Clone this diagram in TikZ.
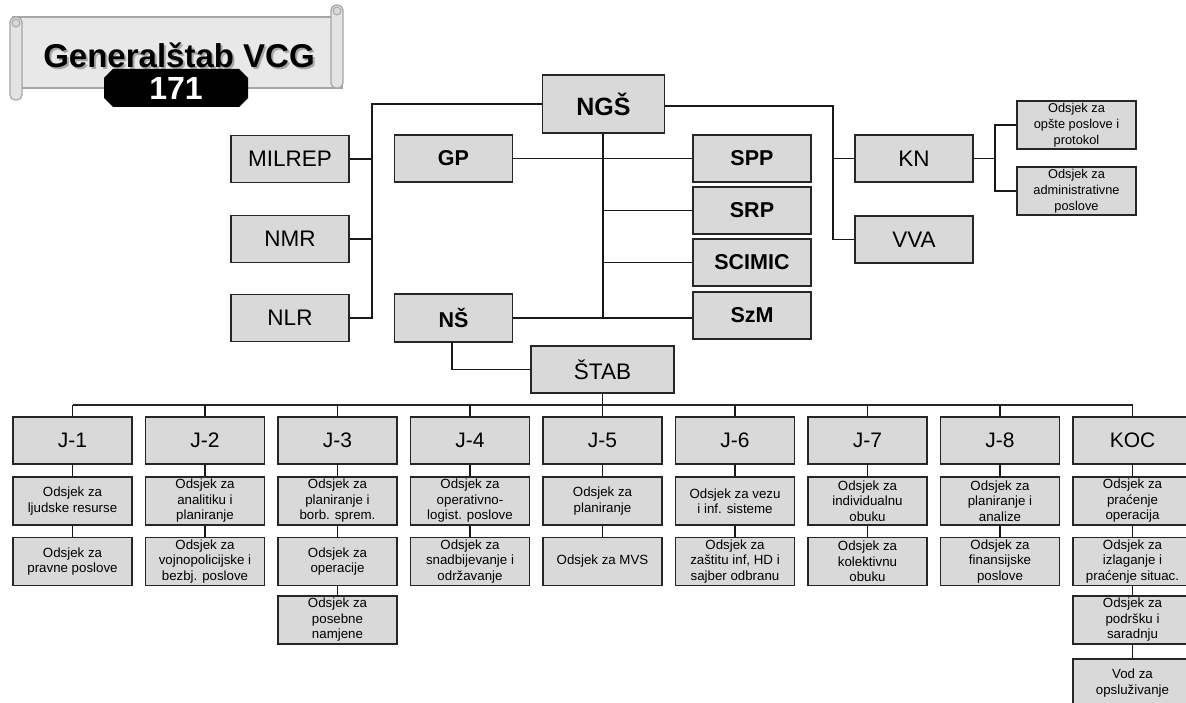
\documentclass[tikz,border=0pt]{standalone}
\usepackage{fontspec}
\setmainfont{Liberation Sans}
\begin{document}
\begin{tikzpicture}[x=1pt,y=-1pt,
  box/.style={draw=black!85,line width=1.6pt,fill=gray!30,inner sep=0pt,align=center},
  top/.style={box,minimum width=118pt,minimum height=47pt,font=\fontsize{22.5}{24}\selectfont},
  topb/.style={top,font=\fontsize{21.5}{24}\selectfont\bfseries},
  jb/.style={box,minimum width=119pt,minimum height=47pt,font=\fontsize{21}{23}\selectfont},
  sb/.style={box,minimum width=119pt,minimum height=48pt,font=\fontsize{13.3}{15.5}\selectfont},
  kb/.style={box,minimum width=119pt,minimum height=48pt,font=\fontsize{12.8}{16}\selectfont},
  con/.style={line width=1.3pt,black!90},
  bus/.style={line width=2.6pt,black!85}]
\clip (0,0) rectangle (1186,703);
\fill[white] (0,0) rectangle (1186,703);

% ---- banner ----
\draw[draw=gray!70,fill=gray!18,line width=1.2pt] (13,17) rectangle (342,88);
\draw[draw=gray!70,fill=gray!22,line width=1.2pt,rounded corners=5pt] (10,17) rectangle (22,100);
\draw[draw=gray!70,fill=gray!22,line width=1.2pt,rounded corners=5pt] (331,5) rectangle (343,88);
\draw[draw=gray!70,fill=gray!30,line width=1pt] (16,23) circle (4);
\draw[draw=gray!70,fill=gray!30,line width=1pt] (337,11) circle (4);
\node[font=\fontsize{33}{35}\selectfont\bfseries,text=gray!70] at (181,57) {Generalštab VCG};
\node (title) [font=\fontsize{33}{35}\selectfont\bfseries] at (179,55) {Generalštab VCG};
\fill[black] (113,69) -- (239,69) -- (248,78) -- (248,98) -- (239,107) -- (113,107) -- (104,98) -- (104,78) -- cycle;
\node (num) [font=\fontsize{32}{34}\selectfont\bfseries,text=white] at (176,88) {171};

% ---- upper part ----
\node (ngs) [topb,minimum width=122pt,minimum height=58pt,font=\fontsize{25}{27}\selectfont\bfseries] at (603.5,104) {NGŠ};
\node (milrep) [top] at (290,159) {MILREP};
\node (nmr) [top] at (290,239) {NMR};
\node (nlr) [top] at (290,318) {NLR};
\node (gp) [topb] at (453.5,158.5) {GP};
\node (ns) [topb,minimum height=48pt] at (453.5,318) {NŠ};
\node (spp) [topb] at (752,158.5) {SPP};
\node (srp) [topb] at (752,210.5) {SRP};
\node (scimic) [topb] at (752,262.5) {SCIMIC};
\node (szm) [topb] at (752,315.5) {SzM};
\node (kn) [top] at (914,158.5) {KN};
\node (vva) [top] at (914,239.5) {VVA};
\node (kn1) [kb] at (1076.5,125) {Odsjek za\\opšte poslove i\\protokol};
\node (kn2) [kb] at (1076.5,191) {Odsjek za\\administrativne\\poslove};
\node (stab) [top,minimum width=143pt] at (602.5,369.5) {ŠTAB};

\coordinate (tl) at (372,0);
\coordinate (tc) at (603,0);
\coordinate (tr) at (833,0);
\coordinate (tk) at (995,0);

\draw[con] (ngs.west) -| (tl |- nlr.east) -- (nlr.east);
\draw[con] (milrep.east) -- (milrep.east -| tl);
\draw[con] (nmr.east) -- (nmr.east -| tl);
\draw[con] (ngs.south -| tc) -- (tc |- ns.east);
\draw[con] (gp.east) -- (spp.west);
\draw[con] (tc |- srp.west) -- (srp.west);
\draw[con] (tc |- scimic.west) -- (scimic.west);
\draw[con] (ns.east) -- (ns.east -| szm.west);
\draw[con] ([yshift=-2pt]ngs.east) -| (tr |- vva.west) -- (vva.west);
\draw[con] (tr |- kn.west) -- (kn.west);
\draw[con] (kn.east) -- (kn.east -| tk);
\draw[con] (kn1.west) -| (tk |- kn2.west) -- (kn2.west);
\draw[con] (452,342) |- (stab.west);

% ---- staff columns ----
\node (j1) [jb] at (72.5,440.5) {J-1};
\node (j2) [jb] at (205,440.5) {J-2};
\node (j3) [jb] at (337.5,440.5) {J-3};
\node (j4) [jb] at (470,440.5) {J-4};
\node (j5) [jb] at (602.5,440.5) {J-5};
\node (j6) [jb] at (735,440.5) {J-6};
\node (j7) [jb] at (867.5,440.5) {J-7};
\node (j8) [jb] at (1000,440.5) {J-8};
\node (koc) [jb] at (1132.5,440.5) {KOC};

\coordinate (busl) at (72.5,405);
\coordinate (busr) at (1132.5,405);
\draw[bus] (busl) -- (busr);
\draw[con] (stab.south) -- (stab.south |- busl);
\foreach \n in {j1,j2,j3,j4,j5,j6,j7,j8,koc}
  \draw[con] (\n.north |- busl) -- (\n.north);

\node (a1) [sb] at (72.5,501) {Odsjek za\\ljudske resurse};
\node (a2) [sb] at (72.5,561.5) {Odsjek za\\pravne poslove};
\node (b1) [sb] at (205,501) {Odsjek za\\analitiku i\\planiranje};
\node (b2) [sb] at (205,561.5) {Odsjek za\\vojnopolicijske i\\bezbj. poslove};
\node (c1) [sb] at (337.5,501) {Odsjek za\\planiranje i\\borb. sprem.};
\node (c2) [sb] at (337.5,561.5) {Odsjek za\\operacije};
\node (c3) [sb] at (337.5,620) {Odsjek za\\posebne\\namjene};
\node (d1) [sb] at (470,501) {Odsjek za\\operativno-\\logist. poslove};
\node (d2) [sb] at (470,561.5) {Odsjek za\\snadbijevanje i\\održavanje};
\node (e1) [sb] at (602.5,501) {Odsjek za\\planiranje};
\node (e2) [sb] at (602.5,561.5) {Odsjek za MVS};
\node (f1) [sb] at (735,501) {Odsjek za vezu\\i inf. sisteme};
\node (f2) [sb] at (735,561.5) {Odsjek za\\zaštitu inf, HD i\\sajber odbranu};
\node (g1) [sb] at (867.5,501) {Odsjek za\\individualnu\\obuku};
\node (g2) [sb] at (867.5,561.5) {Odsjek za\\kolektivnu\\obuku};
\node (h1) [sb] at (1000,501) {Odsjek za\\planiranje i\\analize};
\node (h2) [sb] at (1000,561.5) {Odsjek za\\finansijske\\poslove};
\node (k1) [sb] at (1132.5,501) {Odsjek za\\praćenje\\operacija};
\node (k2) [sb] at (1132.5,561.5) {Odsjek za\\izlaganje i\\praćenje situac.};
\node (k3) [sb] at (1132.5,620) {Odsjek za\\podršku i\\saradnju};
\node (k4) [sb] at (1132.5,683) {Vod za\\opsluživanje};

\draw[con] (j1.south) -- (a1.north); \draw[con] (a1.south) -- (a2.north);
\draw[con] (j2.south) -- (b1.north); \draw[con] (b1.south) -- (b2.north);
\draw[con] (j3.south) -- (c1.north); \draw[con] (c1.south) -- (c2.north); \draw[con] (c2.south) -- (c3.north);
\draw[con] (j4.south) -- (d1.north); \draw[con] (d1.south) -- (d2.north);
\draw[con] (j5.south) -- (e1.north); \draw[con] (e1.south) -- (e2.north);
\draw[con] (j6.south) -- (f1.north); \draw[con] (f1.south) -- (f2.north);
\draw[con] (j7.south) -- (g1.north); \draw[con] (g1.south) -- (g2.north);
\draw[con] (j8.south) -- (h1.north); \draw[con] (h1.south) -- (h2.north);
\draw[con] (koc.south) -- (k1.north); \draw[con] (k1.south) -- (k2.north);
\draw[con] (k2.south) -- (k3.north); \draw[con] (k3.south) -- (k4.north);
\end{tikzpicture}
\end{document}
